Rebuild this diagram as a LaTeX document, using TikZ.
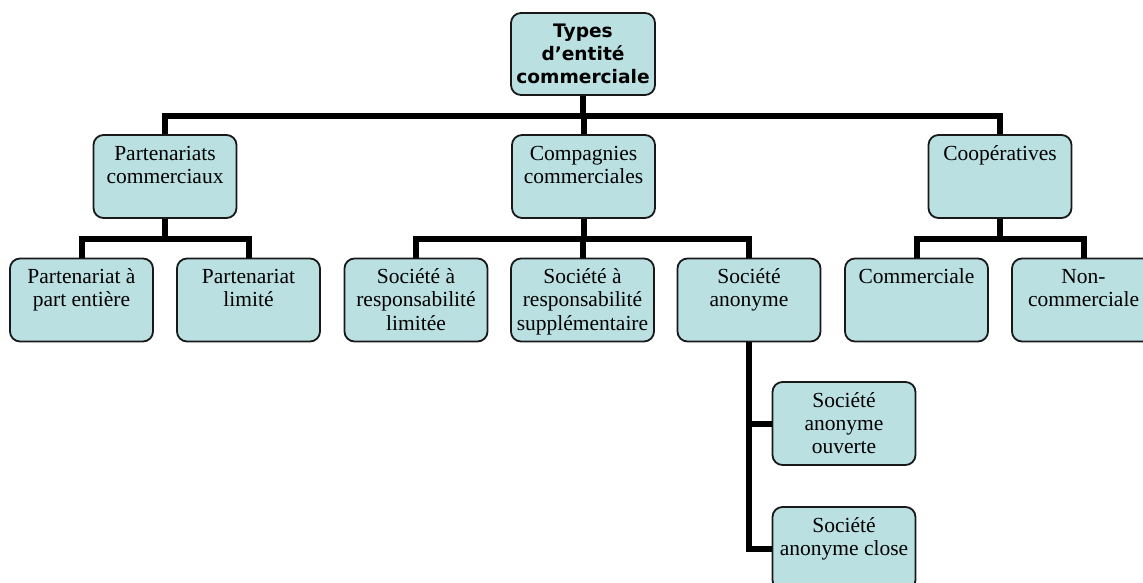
\documentclass[tikz,border=0pt]{standalone}
\usepackage{fontspec}
\setmainfont{Liberation Serif}
\newfontfamily\titrefont{DejaVu Sans}
\usepackage{tikz}
\definecolor{bleupale}{HTML}{BAE0E2}
\newcommand{\etiq}[1]{\parbox[c][83pt][t]{141pt}{\centering\rule{0pt}{25pt}#1}}

\begin{document}
\begin{tikzpicture}[x=1pt, y=-1pt,
    boite/.style={draw=black!90, fill=bleupale, line width=1.8pt, rounded corners=10pt,
      inner sep=0pt, minimum width=143pt, minimum height=83pt,
      font=\fontsize{21.5}{23.3}\selectfont},
    lien/.style={line width=6pt}]
		\useasboundingbox (0,0) rectangle (1143,582);
		% racine
		\node[boite, minimum width=144pt, minimum height=82pt, align=center,
		  font=\titrefont\bfseries\fontsize{18.6}{23}\selectfont] (racine) at (583,54)
		  {Types\\d’entité\\commerciale};
		% deuxieme niveau
		\node[boite] (part) at (165,176.5) {\etiq{Partenariats\\commerciaux}};
		\node[boite] (comp) at (583.5,176.5) {\etiq{Compagnies\\commerciales}};
		\node[boite] (coop) at (1000,176.5) {\etiq{Coopératives}};
		% troisieme niveau
		\node[boite] (entiere) at (81.5,300) {\etiq{Partenariat à\\part entière}};
		\node[boite] (limite) at (248.5,300) {\etiq{Partenariat\\limité}};
		\node[boite] (srl) at (416,300) {\etiq{Société à\\responsabilité\\limitée}};
		\node[boite] (srs) at (582.5,300) {\etiq{Société à\\responsabilité\\supplémentaire}};
		\node[boite] (anon) at (749,300) {\etiq{Société\\anonyme}};
		\node[boite] (comm) at (916.5,300) {\etiq{Commerciale}};
		\node[boite] (noncomm) at (1083.5,300) {\etiq{Non-\\commerciale}};
		% sociétés anonymes
		\node[boite] (ouverte) at (844,423.5) {\etiq{Société\\anonyme\\ouverte}};
		\node[boite] (close) at (844,548.5) {\etiq{Société\\anonyme close}};
		% liens
		\foreach \enfant in {part,comp,coop}
		  \draw[lien] (racine.south) -- ++(0,20) -| (\enfant.north);
		\foreach \enfant in {entiere,limite}
		  \draw[lien] (part.south) -- ++(0,20) -| (\enfant.north);
		\foreach \enfant in {srl,srs,anon}
		  \draw[lien] (comp.south) -- ++(0,20) -| (\enfant.north);
		\foreach \enfant in {comm,noncomm}
		  \draw[lien] (coop.south) -- ++(0,20) -| (\enfant.north);
		\foreach \enfant in {ouverte,close}
		  \draw[lien] (anon.south) |- (\enfant.west);
	\end{tikzpicture}
\end{document}
